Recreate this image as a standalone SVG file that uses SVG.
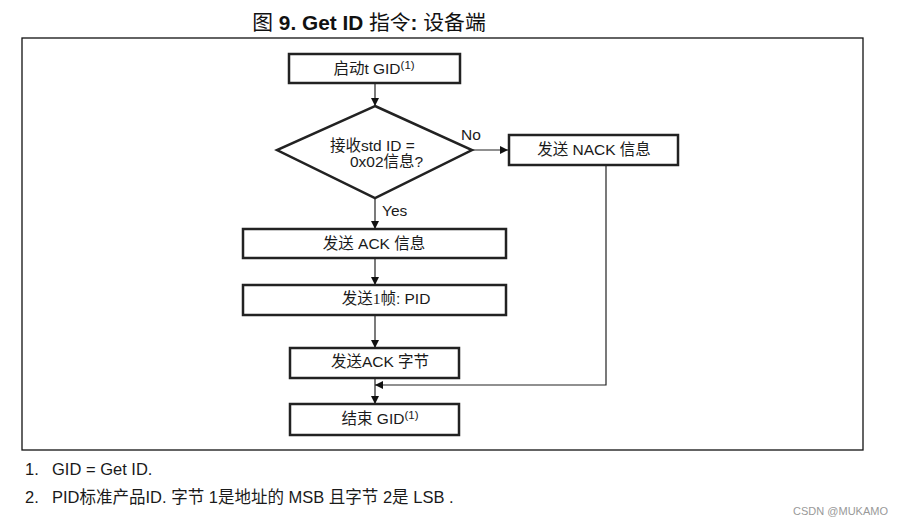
<svg xmlns="http://www.w3.org/2000/svg" width="902" height="526" viewBox="0 0 902 526">
<defs>
<style>
.t{font-family:"Liberation Sans","Noto Sans CJK SC",Arial,sans-serif;font-size:15.5px;fill:#1a1a1a}
.fn{font-family:"Liberation Sans","Noto Sans CJK SC",Arial,sans-serif;font-size:16.5px;fill:#1a1a1a}
.box{fill:#fff;stroke:#222;stroke-width:2.5}
.ln{fill:none;stroke:#222;stroke-width:1.2}
.sup{font-size:11.5px}
</style>
<marker id="ah" viewBox="0 0 10 10" refX="10" refY="5" markerWidth="8" markerHeight="8" markerUnits="userSpaceOnUse" orient="auto"><path d="M0,0L10,5L0,10z" fill="#111"/></marker>
</defs>
<rect width="902" height="526" fill="#fff"/>
<text x="369" y="30" text-anchor="middle" font-family="Liberation Sans,'Noto Sans CJK SC',sans-serif" font-size="20.8" fill="#111">图 <tspan font-weight="bold">9. Get ID</tspan> 指令<tspan font-weight="bold">:</tspan> 设备端</text>
<rect x="22" y="38" width="841" height="412" fill="none" stroke="#111" stroke-width="1.3"/>
<g id="connectors">
<line class="ln" x1="375" y1="83" x2="375" y2="106" marker-end="url(#ah)"/>
<line class="ln" x1="472" y1="150" x2="508" y2="150" marker-end="url(#ah)"/>
<line class="ln" x1="375" y1="198" x2="375" y2="229" marker-end="url(#ah)"/>
<line class="ln" x1="375" y1="258" x2="375" y2="285" marker-end="url(#ah)"/>
<line class="ln" x1="375" y1="315" x2="375" y2="348" marker-end="url(#ah)"/>
<line class="ln" x1="375" y1="378" x2="375" y2="404" marker-end="url(#ah)"/>
<polyline class="ln" points="606,165 606,385 375,385" marker-end="url(#ah)"/>
<text class="t" x="461" y="140">No</text>
<text class="t" x="382" y="216">Yes</text>
</g>
<g id="start"><rect class="box" x="289" y="54" width="171" height="29"/><text class="t" x="374" y="74" text-anchor="middle">启动t GID<tspan class="sup" dy="-5">(1)</tspan></text></g>
<g id="decision"><polygon class="box" points="375,106 472,150 375,198 277,150"/><text class="t" x="330" y="151">接收std ID =</text><text class="t" x="350" y="167">0x02信息?</text></g>
<g id="nack"><rect class="box" x="509" y="135" width="169" height="30"/><text class="t" x="594" y="155" text-anchor="middle">发送 NACK 信息</text></g>
<g id="ack"><rect class="box" x="243" y="229" width="263" height="29"/><text class="t" x="374" y="249" text-anchor="middle">发送 ACK 信息</text></g>
<g id="pid"><rect class="box" x="243" y="285" width="263" height="30"/><text class="t" x="386" y="304" text-anchor="middle">发送<tspan font-family="Liberation Serif,serif">1</tspan>帧: PID</text></g>
<g id="ackbyte"><rect class="box" x="290" y="348" width="169" height="30"/><text class="t" x="380" y="367" text-anchor="middle">发送ACK 字节</text></g>
<g id="end"><rect class="box" x="290" y="404" width="169" height="31"/><text class="t" x="380" y="424" text-anchor="middle">结束 GID<tspan class="sup" dy="-5">(1)</tspan></text></g>
<text class="fn" x="25" y="475">1.</text><text class="fn" x="52" y="475">GID = Get ID.</text>
<text class="fn" x="25" y="503">2.</text><text class="fn" x="52" y="503">PID标准产品ID. 字节 1是地址的 MSB 且字节 2是 LSB .</text>
<text x="888" y="515" text-anchor="end" font-family="Liberation Sans,sans-serif" font-size="11" fill="#999">CSDN @MUKAMO</text>
</svg>
